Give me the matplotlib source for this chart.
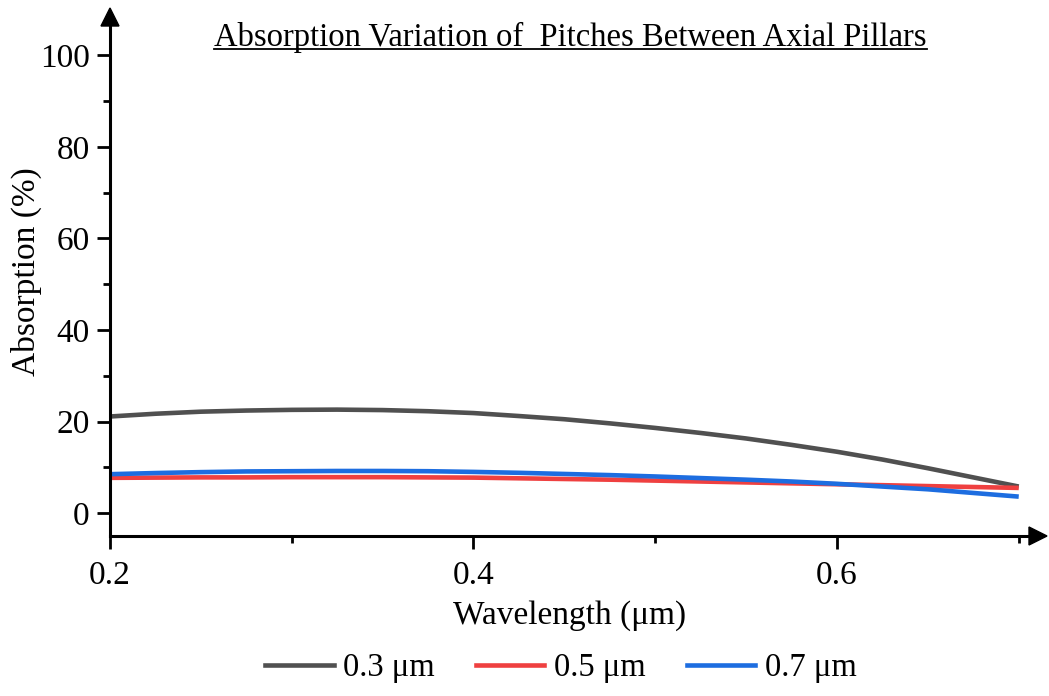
import matplotlib
matplotlib.use("Agg")
import matplotlib.pyplot as plt
from matplotlib.patches import Polygon
from matplotlib.lines import Line2D
from matplotlib.ticker import MultipleLocator, FixedLocator

plt.rcParams['font.family'] = ['Liberation Serif', 'DejaVu Serif']

# Wavelength samples (um) and absorption (%) for each pillar pitch
wavelength = [0.2, 0.225, 0.25, 0.275, 0.3, 0.325, 0.35, 0.375, 0.4, 0.425, 0.45,
              0.475, 0.5, 0.525, 0.55, 0.575, 0.6, 0.625, 0.65, 0.675, 0.7]
abs_p03 = [21.1, 21.7, 22.15, 22.4, 22.55, 22.6, 22.5, 22.25, 21.85, 21.2, 20.5,
           19.6, 18.6, 17.5, 16.3, 14.9, 13.4, 11.7, 9.8, 7.8, 5.8]
abs_p05 = [7.7, 7.75, 7.8, 7.8, 7.85, 7.85, 7.85, 7.8, 7.75, 7.6, 7.45,
           7.3, 7.1, 6.9, 6.7, 6.5, 6.3, 6.1, 5.9, 5.7, 5.5]
abs_p07 = [8.5, 8.75, 8.95, 9.1, 9.15, 9.2, 9.2, 9.15, 9.0, 8.8, 8.55,
           8.3, 8.0, 7.65, 7.3, 6.9, 6.4, 5.8, 5.2, 4.4, 3.6]

series_labels = ['0.3 μm', '0.5 μm', '0.7 μm']
series_colors = ['#505050', '#ef4040', '#1d6de0']

W, H = 1049, 696
fig = plt.figure(figsize=(W / 100, H / 100), dpi=100)

left_px, right_px, top_px, bottom_px = 110, 1030, 25, 536
ax = fig.add_axes([left_px / W, 1 - bottom_px / H,
                   (right_px - left_px) / W, (bottom_px - top_px) / H])

for ys, lab, col in zip([abs_p03, abs_p05, abs_p07], series_labels, series_colors):
    ax.plot(wavelength, ys, color=col, lw=3.3, label=lab, solid_capstyle='butt')

ax.set_xlim(0.2, 0.7062)
ax.set_ylim(-5, 106.6)

for s in ['top', 'right']:
    ax.spines[s].set_visible(False)
for s in ['left', 'bottom']:
    ax.spines[s].set_linewidth(2.2)

ax.xaxis.set_major_locator(FixedLocator([0.2, 0.4, 0.6]))
ax.xaxis.set_minor_locator(FixedLocator([0.3, 0.5, 0.7]))
ax.yaxis.set_major_locator(MultipleLocator(20))
ax.yaxis.set_minor_locator(FixedLocator([10, 30, 50, 70, 90]))
ax.set_xticklabels(['0.2', '0.4', '0.6'])
ax.tick_params(which='major', direction='out', length=9.5, width=2.0, labelsize=24, pad=5)
ax.tick_params(which='minor', direction='out', length=5, width=2.0)
ax.tick_params(axis='x', which='major', pad=8)

ax.set_xlabel('Wavelength (μm)', fontsize=24, labelpad=7)

# Axis title for absorption, placed at a fixed spot left of the ticks
fig.text(26 / W, 1 - 272 / H, 'Absorption (%)', fontsize=24, rotation=90,
         ha='center', va='center')

# Arrowheads at the ends of both axes (pixel geometry)
def px(x, y):
    return (x / W, 1 - y / H)

arrow_y = Polygon([px(110, 8), px(101, 26), px(119, 26)], closed=True,
                  transform=fig.transFigure, color='black', clip_on=False)
arrow_x = Polygon([px(1047, 536), px(1029, 527), px(1029, 545)], closed=True,
                  transform=fig.transFigure, color='black', clip_on=False)
fig.patches.extend([arrow_y, arrow_x])

# Underlined title
title = fig.text(570.5 / W, 1 - 46 / H, 'Absorption Variation of  Pitches Between Axial Pillars',
                 fontsize=23.5, ha='center', va='baseline')
fig.canvas.draw()
bb = title.get_window_extent()
uy = H - 48.5
fig.add_artist(Line2D([bb.x0 / W, bb.x1 / W], [uy / H, uy / H], color='black', lw=1.3,
                      transform=fig.transFigure))

handles = [Line2D([], [], color=c, lw=3.3) for c in series_colors]
fig.legend(handles, series_labels, loc='center', bbox_to_anchor=(561 / W, 1 - 668 / H),
           ncol=3, frameon=False, fontsize=23.5, handlelength=2.1, handletextpad=0.3,
           columnspacing=1.25)

fig.savefig('out.png', dpi=100)
